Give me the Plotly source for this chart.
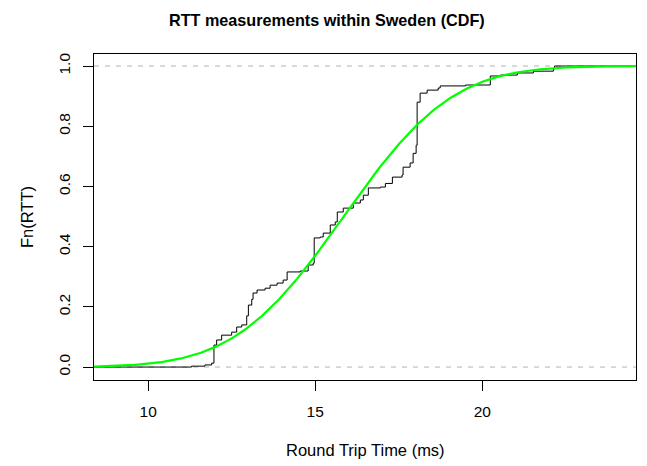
import math
import plotly.graph_objects as go

# ECDF jump locations (ms) and cumulative level after each jump
ecdf_x = [11.3, 11.7, 11.9, 11.97, 12.05, 12.2, 12.5, 12.65, 12.8, 12.95, 13.0, 13.1,
          13.14, 13.26, 13.5, 13.65, 13.86, 14.04, 14.16, 14.55, 14.79, 14.94, 14.97,
          15.15, 15.24, 15.45, 15.6, 15.66, 15.84, 16.14, 16.35, 16.44, 16.59, 16.95,
          17.1, 17.31, 17.6, 17.63, 17.84, 17.93, 18.02, 18.05, 18.14, 18.35, 18.68,
          18.74, 19.5, 20.24, 20.54, 21.05, 21.53, 22.13, 22.16]
ecdf_f = [0.003, 0.007, 0.013, 0.073, 0.09, 0.106, 0.116, 0.133, 0.14, 0.17, 0.206, 0.225,
          0.246, 0.256, 0.262, 0.272, 0.279, 0.289, 0.316, 0.319, 0.339, 0.345, 0.429,
          0.432, 0.445, 0.472, 0.482, 0.515, 0.528, 0.545, 0.555, 0.571, 0.595, 0.598,
          0.61, 0.631, 0.638, 0.664, 0.678, 0.71, 0.737, 0.88, 0.91, 0.92, 0.927,
          0.934, 0.937, 0.967, 0.97, 0.977, 0.983, 0.99, 1.0]

# fitted normal distribution parameters (green curve)
fit_mean = 15.85
fit_sd = 2.56

x_range = [8.38, 24.6]
y_range = [-0.043, 1.04]
x_ticks = [10, 15, 20]
y_ticks = [0.0, 0.2, 0.4, 0.6, 0.8, 1.0]
y_ticklabels = ["0.0", "0.2", "0.4", "0.6", "0.8", "1.0"]

n = 300
grid = [x_range[0] + (x_range[1] - x_range[0]) * i / (n - 1) for i in range(n)]
norm_cdf = [0.5 * (1 + math.erf((g - fit_mean) / (fit_sd * math.sqrt(2)))) for g in grid]

fig = go.Figure()
for h in [0, 1]:
    fig.add_trace(go.Scatter(x=x_range, y=[h, h], mode="lines",
                             line=dict(color="#B3B3B3", width=1, dash="5px,6px"),
                             hoverinfo="skip", showlegend=False))
fig.add_trace(go.Scatter(x=[x_range[0]] + ecdf_x + [x_range[1]],
                         y=[0] + ecdf_f + [1.0],
                         mode="lines", line=dict(color="black", width=1, shape="hv"),
                         showlegend=False))
fig.add_trace(go.Scatter(x=grid, y=norm_cdf, mode="lines",
                         line=dict(color="#00FF00", width=2.2), showlegend=False))

L, R, T, B = 94, 636, 54, 380
W, H = 647, 466

def px(xp):
    return (xp - L) / (R - L)

def py(yp):
    return (B - yp) / (B - T)

font = "Liberation Sans, Arial, sans-serif"
fig.update_layout(
    width=W, height=H,
    margin=dict(l=L, r=W - R, t=T, b=H - B, pad=0),
    plot_bgcolor="white", paper_bgcolor="white",
    font=dict(family=font, size=16, color="black"),
    xaxis=dict(range=x_range, tickvals=x_ticks, ticks="outside", ticklen=10,
               tickcolor="black", showline=True, linecolor="black", linewidth=1,
               mirror=True, showgrid=False, zeroline=False, ticklabelstandoff=7,
               tickfont=dict(size=15.5)),
    yaxis=dict(range=y_range, tickvals=y_ticks, ticktext=y_ticklabels, ticks="outside",
               ticklen=10, tickcolor="black", tickangle=-90, showline=True,
               linecolor="black", linewidth=1, mirror=True, showgrid=False,
               zeroline=False, ticklabelstandoff=7, tickfont=dict(size=15.5)),
    annotations=[
        dict(text="<b>RTT measurements within Sweden (CDF)</b>", xref="paper", yref="paper",
             x=px(327), y=py(20), showarrow=False, font=dict(size=16.2),
             xanchor="center", yanchor="middle"),
        dict(text="Round Trip Time (ms)", xref="paper", yref="paper",
             x=px(365), y=py(450), showarrow=False, xanchor="center", yanchor="middle",
             font=dict(size=16.5)),
        dict(text="Fn(RTT)", xref="paper", yref="paper", x=px(27), y=py(217),
             showarrow=False, textangle=-90, xanchor="center", yanchor="middle",
             font=dict(size=16.5)),
    ],
)
fig.write_html("out.html")
